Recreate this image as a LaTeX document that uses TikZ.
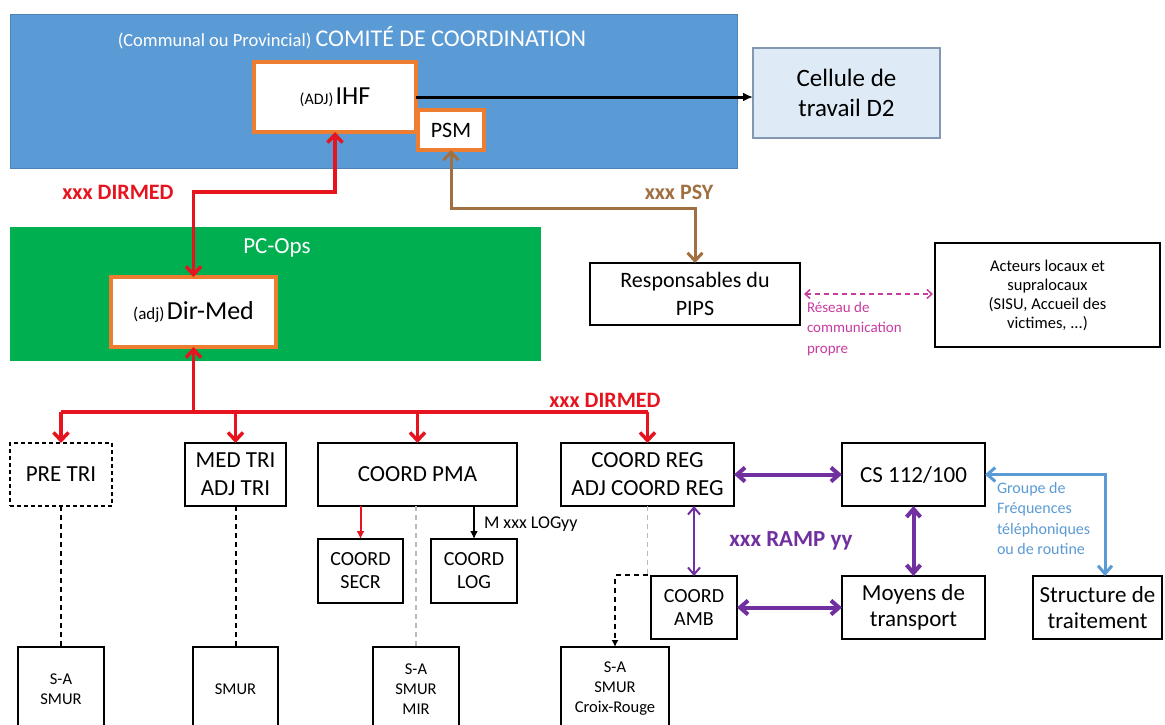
\documentclass[tikz,border=0pt]{standalone}
\usepackage{fontspec}
\setmainfont{Carlito}
\usetikzlibrary{arrows.meta}
\definecolor{comblue}{RGB}{91,155,213}
\definecolor{cellfill}{RGB}{222,235,247}
\definecolor{cellline}{RGB}{132,151,176}
\definecolor{opsgreen}{RGB}{0,176,80}
\definecolor{orangeC}{RGB}{237,125,49}
\definecolor{redC}{RGB}{230,20,30}
\definecolor{brownC}{RGB}{160,112,64}
\definecolor{magC}{RGB}{200,60,160}
\definecolor{purpC}{RGB}{112,48,160}
\definecolor{greyD}{RGB}{185,185,185}
\newcommand{\fsz}[2]{\fontsize{#1}{#2}\selectfont}
\begin{document}
\begin{tikzpicture}[x=1pt,y=-1pt,
  every node/.style={inner sep=0pt, outer sep=0pt},
  bx/.style={draw=black, line width=2pt, fill=white, align=center, font=\fsz{23}{28}},
  sbx/.style={draw=black, line width=2pt, fill=white, align=center, font=\fsz{20}{23}},
  ob/.style={draw=orangeC, line width=4pt, fill=white, align=center},
  tbx/.style={draw=black, line width=1.2pt, fill=white, align=center, font=\fsz{16.5}{20}, anchor=north, minimum height=84pt},
  redl/.style={draw=redC, line width=3.5pt},
  barb/.style={-{Straight Barb[length=8pt,width=15pt]}},
  barbs/.style={{Straight Barb[length=8pt,width=15pt]}-{Straight Barb[length=8pt,width=15pt]}},
  pbarbs/.style={{Straight Barb[length=8pt,width=14pt]}-{Straight Barb[length=8pt,width=14pt]}},
  tbarbs/.style={{Straight Barb[length=7pt,width=12pt]}-{Straight Barb[length=7pt,width=12pt]}},
  lbl/.style={font=\bfseries\fsz{22}{26}},
  dsh/.style={line width=1.6pt, dash pattern=on 5pt off 4pt}
]
\path[use as bounding box] (0,0) rectangle (1165,724);
\clip (0,0) rectangle (1165,724);
\fill[white] (0,0) rectangle (1165,724);

% ---------- top block ----------
\node[fill=comblue, draw=comblue!85!black, line width=0.8pt, minimum width=727pt, minimum height=154pt] (comite) at (373.5,91) {};
\node[text=white] (comitetitle) at (352,38) {\fsz{18.5}{22}(Communal ou Provincial) \fsz{24}{28}COMITÉ DE COORDINATION};
\node[ob, minimum width=162pt, minimum height=70pt] (ihf) at (335,97) {{\fsz{16}{18}(ADJ)} {\fsz{26}{28}IHF}};
\node[ob, minimum width=66pt, minimum height=40pt, font=\fsz{22}{25}] (psm) at (451,130) {PSM};
\node[fill=cellfill, draw=cellline, line width=1.2pt, minimum width=187pt, minimum height=90pt, align=center, font=\fsz{25}{30}] (cellule) at (846.5,93) {Cellule de\\travail D2};

\node[fill=opsgreen, minimum width=531pt, minimum height=134pt] (pcops) at (275.5,294) {};
\node[text=white, font=\fsz{23}{26}] (pcopstitle) at (277,248) {PC-Ops};
\node[ob, minimum width=165pt, minimum height=70pt] (dirmed) at (193.5,312) {{\fsz{17}{20}(adj)} {\fsz{26}{28}Dir-Med}};

\node[bx, font=\fsz{22}{28}, minimum width=210pt, minimum height=62pt] (resp) at (695,294) {Responsables du\\PIPS};
\node[draw=black, line width=1.5pt, fill=white, align=center, font=\fsz{16.5}{19}, minimum width=225pt, minimum height=104pt] (acteurs) at (1047.5,295) {Acteurs locaux et\\supralocaux\\(SISU, Accueil des\\victimes, ...)};

% ---------- second level ----------
\node[draw=black, line width=1.6pt, dash pattern=on 4pt off 3pt, fill=white, align=center, font=\fsz{23}{28}, minimum width=102pt, minimum height=63pt] (pretri) at (61,474.5) {PRE TRI};
\node[bx, minimum width=101pt, minimum height=63pt] (medtri) at (235.5,474.5) {MED TRI\\ADJ TRI};
\node[bx, minimum width=199pt, minimum height=63pt] (coordpma) at (417.5,474.5) {COORD PMA};
\node[bx, minimum width=173pt, minimum height=63pt] (coordreg) at (647.5,474.5) {COORD REG\\ADJ COORD REG};
\node[bx, minimum width=143pt, minimum height=63pt] (cs) at (913.5,474.5) {CS 112/100};

\node[sbx, minimum width=85pt, minimum height=64pt] (coordsecr) at (360.5,571) {COORD\\SECR};
\node[sbx, minimum width=86pt, minimum height=64pt] (coordlog) at (474,571) {COORD\\LOG};
\node[sbx, minimum width=86pt, minimum height=63pt] (coordamb) at (694,607.5) {COORD\\AMB};
\node[bx, font=\fsz{23}{26}, minimum width=143pt, minimum height=63pt] (moyens) at (913.5,607.5) {Moyens de\\transport};
\node[bx, font=\fsz{23}{26}, minimum width=129pt, minimum height=63pt] (structure) at (1097.5,607.5) {Structure de\\traitement};

% ---------- bottom boxes ----------
\node[tbx, minimum width=86pt] (sa1) at (61,647) {S-A\\SMUR};
\node[tbx, minimum width=85pt] (smur) at (235.5,647) {SMUR};
\node[tbx, minimum width=86pt] (mir) at (416,647) {S-A\\SMUR\\MIR};
\node[tbx, minimum width=108pt] (croix) at (615,647) {S-A\\SMUR\\Croix-Rouge};

% ---------- connectors ----------
\draw[line width=3pt, -{Latex[length=10pt,width=9pt]}] (ihf.east) -- (cellule.west |- ihf.east);

\coordinate (rbend) at (193.5,192);
\draw[redl, barbs] (dirmed.north) -- (rbend) -| (ihf.south);
\node[lbl, text=redC] (lblup) at (118,192) {xxx DIRMED};

\coordinate (bbend) at (451,208);
\draw[draw=brownC, line width=3pt, barbs] (psm.south) -- (bbend) -| (resp.north);
\node[lbl, text=brownC] (lblpsy) at (679,192) {xxx PSY};

\draw[magC, line width=1.5pt, dash pattern=on 5pt off 4pt, {Straight Barb[length=5pt,width=9pt]}-{Straight Barb[length=5pt,width=9pt]}, shorten <=4pt, shorten >=2pt] (resp.east) -- (acteurs.west |- resp.east);
\node[text=magC, anchor=north west, align=left, font=\fsz{15}{20.5}] (lblreseau) at (807,302) {Réseau de\\communication\\propre};

\coordinate (tj) at (193.5,412);
\draw[redl, {Straight Barb[length=8pt,width=15pt]}-] (dirmed.south) -- (tj);
\draw[redl] (pretri.north |- tj) -- (coordreg.north |- tj);
\draw[redl, barb] (pretri.north |- tj) -- (pretri.north);
\draw[redl, barb] (medtri.north |- tj) -- (medtri.north);
\draw[redl, barb] (coordpma.north |- tj) -- (coordpma.north);
\draw[redl, barb] (coordreg.north |- tj) -- (coordreg.north);
\node[lbl, text=redC] (lbldown) at (605,400) {xxx DIRMED};

\draw[redC, line width=2pt, -{Latex[length=8pt,width=8pt]}] (coordpma.south -| coordsecr.north) -- (coordsecr.north);
\draw[black, line width=2pt, -{Latex[length=8pt,width=8pt]}] (coordpma.south -| coordlog.north) -- (coordlog.north);
\node[anchor=west, font=\fsz{18}{22}] (lbllog) at (484,524) {M xxx LOGyy};

\draw[dsh] (pretri.south) -- (sa1.north);
\draw[dsh, line width=2pt] (medtri.south) -- (smur.north);
\draw[greyD, line width=1.2pt, dash pattern=on 5pt off 4pt] (coordpma.south -| mir.north) -- (mir.north);
\coordinate (regbend) at (647.5,575);
\draw[greyD, line width=1.2pt, dash pattern=on 5pt off 4pt] (coordreg.south) -- (regbend);
\draw[dsh, -{Latex[length=7pt,width=7pt]}] (regbend) -| (croix.north);

\draw[purpC, line width=4pt, pbarbs] (coordreg.east) -- (cs.west);
\draw[purpC, line width=2pt, tbarbs] (coordreg.south -| coordamb.north) -- (coordamb.north);
\draw[purpC, line width=4pt, pbarbs] (coordamb.east) -- (moyens.west);
\draw[purpC, line width=4pt, pbarbs] (cs.south) -- (moyens.north);
\node[lbl, text=purpC, font=\bfseries\fsz{23}{26}] (lblramp) at (791,541) {xxx RAMP yy};

\coordinate (bcorner) at (1105,474.5);
\draw[comblue, line width=3pt, pbarbs] (cs.east) -- (bcorner) -- (structure.north -| bcorner);
\node[text=comblue, anchor=north west, align=left, font=\fsz{16}{20.5}] (lblgroupe) at (997,482) {Groupe de\\Fréquences\\téléphoniques\\ou de routine};
\end{tikzpicture}
\end{document}
